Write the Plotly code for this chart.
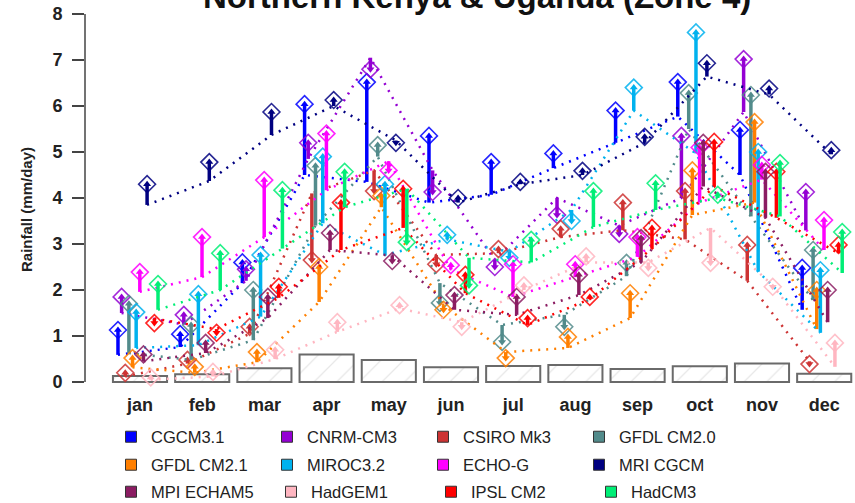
import plotly.graph_objects as go

# ---------------------------------------------------------------- data
months = ["jan", "feb", "mar", "apr", "may", "jun", "jul", "aug", "sep", "oct", "nov", "dec"]
month_pos = list(range(1, 13))
y_ticks = [0, 1, 2, 3, 4, 5, 6, 7, 8]

# observed monthly rainfall (hatched boxes), mm/day
observed = [0.13, 0.17, 0.30, 0.60, 0.48, 0.32, 0.35, 0.37, 0.28, 0.34, 0.40, 0.18]

# model rainfall, present-day ("now") and projected ("future"), mm/day
cgcm31_now = [0.59, 0.76, 2.15, 4.50, 4.35, 3.90, 4.07, 4.65, 5.20, 5.77, 4.50, 1.57]
cgcm31_future = [1.13, 1.04, 2.60, 6.04, 6.52, 5.35, 4.78, 4.97, 5.90, 6.52, 5.48, 2.48]

cnrm_now = [1.50, 1.25, 2.20, 4.85, 7.05, 4.60, 2.65, 4.00, 3.40, 4.00, 5.87, 3.30]
cnrm_future = [1.85, 1.46, 2.45, 5.20, 6.80, 4.13, 2.50, 3.63, 3.22, 5.35, 7.02, 4.13]

csiro_now = [0.12, 0.40, 1.05, 4.10, 4.60, 2.76, 2.80, 3.15, 3.30, 3.10, 2.20, 0.45]
csiro_future = [0.20, 0.48, 1.20, 2.65, 4.15, 2.56, 2.89, 3.33, 3.90, 4.15, 2.98, 0.39]

gfdl20_now = [0.63, 0.48, 0.91, 3.40, 4.90, 2.15, 1.24, 1.46, 2.30, 5.50, 3.60, 1.78]
gfdl20_future = [1.70, 1.24, 2.00, 4.70, 5.15, 1.72, 0.87, 1.20, 2.59, 6.28, 6.24, 2.87]

gfdl21_now = [0.32, 0.20, 0.43, 1.74, 3.80, 1.67, 0.65, 0.74, 1.39, 3.63, 3.90, 1.15]
gfdl21_future = [0.52, 0.33, 0.65, 2.50, 4.05, 1.57, 0.52, 0.98, 1.93, 4.60, 5.65, 2.00]

miroc_now = [0.74, 0.80, 1.42, 3.45, 2.76, 3.10, 2.83, 3.74, 5.90, 4.97, 2.40, 1.07]
miroc_future = [1.52, 1.91, 2.76, 4.90, 4.30, 3.20, 2.70, 3.50, 6.40, 7.60, 5.00, 2.43]

echog_now = [1.96, 2.28, 3.15, 4.17, 4.80, 2.45, 1.85, 2.28, 2.72, 3.90, 4.40, 2.87]
echog_future = [2.39, 3.15, 4.39, 5.40, 4.60, 2.54, 2.56, 2.56, 3.15, 5.10, 4.72, 3.52]

mri_now = [3.85, 4.37, 5.37, 6.00, 5.25, 3.90, 4.30, 4.50, 5.20, 6.64, 6.25, 4.95]
mri_future = [4.30, 4.78, 5.87, 6.13, 5.20, 4.00, 4.35, 4.59, 5.33, 6.93, 6.38, 5.04]

mpi_now = [0.45, 0.63, 1.39, 2.87, 2.75, 1.57, 1.46, 1.89, 2.60, 4.25, 3.57, 1.30]
mpi_future = [0.60, 0.85, 1.85, 3.24, 2.63, 1.89, 1.85, 2.33, 3.13, 5.20, 4.57, 2.00]

hadgem_now = [0.05, 0.12, 0.50, 1.09, 1.60, 1.30, 2.00, 2.60, 2.60, 3.35, 2.10, 0.33]
hadgem_future = [0.10, 0.22, 0.70, 1.30, 1.67, 1.20, 2.10, 2.73, 2.48, 2.59, 2.07, 0.85]

ipsl_now = [1.38, 1.15, 1.83, 2.87, 3.35, 1.93, 1.24, 1.80, 2.90, 4.25, 3.57, 2.80]
ipsl_future = [1.28, 1.07, 2.07, 3.90, 4.20, 2.33, 1.39, 1.85, 3.35, 5.22, 4.57, 2.98]

hadcm3_now = [1.57, 2.00, 2.90, 3.80, 4.20, 2.70, 2.60, 3.37, 3.74, 4.00, 3.60, 2.37]
hadcm3_future = [2.13, 2.80, 4.17, 4.57, 3.04, 2.10, 3.09, 4.15, 4.32, 4.07, 4.76, 3.26]

model_names = ["CGCM3.1", "CNRM-CM3", "CSIRO Mk3", "GFDL CM2.0",
               "GFDL CM2.1", "MIROC3.2", "ECHO-G", "MRI CGCM",
               "MPI ECHAM5", "HadGEM1", "IPSL CM2", "HadCM3"]
model_now = [cgcm31_now, cnrm_now, csiro_now, gfdl20_now, gfdl21_now, miroc_now,
             echog_now, mri_now, mpi_now, hadgem_now, ipsl_now, hadcm3_now]
model_future = [cgcm31_future, cnrm_future, csiro_future, gfdl20_future,
                gfdl21_future, miroc_future, echog_future, mri_future,
                mpi_future, hadgem_future, ipsl_future, hadcm3_future]

# ---------------------------------------------------------------- style
colours = ["#0000FF", "#9400D3", "#CD3333", "#528B8B",
           "#FF7F00", "#00B2EE", "#FF00FF", "#000080",
           "#8B1C62", "#FFB6C1", "#FF0000", "#00EE76"]

# left-to-right placement of the models inside each month slot
slot_order = ["CGCM3.1", "CNRM-CM3", "CSIRO Mk3", "GFDL CM2.0", "GFDL CM2.1",
              "MIROC3.2", "ECHO-G", "MPI ECHAM5", "MRI CGCM", "HadGEM1",
              "IPSL CM2", "HadCM3"]
SLOT_START = -0.354
SLOT_STEP = 0.0585

FONT = "Liberation Sans, Arial, sans-serif"
W, H = 855, 503
PLOT_LEFT, PLOT_BOTTOM = 85, 392   # pixel edges of the plotting region
PX_PER_MONTH, PX_PER_MM = 62.2, 46.0
ZERO_PX = 382                      # pixel row of 0 mm/day

fig = go.Figure()

# observed climatology as hatched boxes
fig.add_trace(go.Bar(
    x=month_pos, y=observed, width=0.87, showlegend=False, hoverinfo="skip",
    marker=dict(color="white", line=dict(color="#6a6a6a", width=2),
                pattern=dict(shape="/", fgcolor="#d0d0d0", bgcolor="white",
                             size=16, solidity=0.08)),
))

for i, name in enumerate(model_names):
    col = colours[i]
    now = model_now[i]
    fut = model_future[i]
    dx = SLOT_START + SLOT_STEP * slot_order.index(name)
    xs = [m + dx for m in month_pos]

    # present-day annual cycle
    fig.add_trace(go.Scatter(
        x=xs, y=now, mode="lines", showlegend=False, hoverinfo="skip",
        line=dict(color=col, width=2.5, dash="2px,6px"),
    ))

    # change arrows: shaft from present-day to future value
    sx, sy = [], []
    for x, a, b in zip(xs, now, fut):
        sx += [x, x, None]
        sy += [a, b, None]
    fig.add_trace(go.Scatter(
        x=sx, y=sy, mode="lines", showlegend=False, hoverinfo="skip",
        line=dict(color=col, width=3.5),
    ))
    fig.add_trace(go.Scatter(
        x=xs, y=fut, mode="markers", showlegend=False, hoverinfo="skip",
        marker=dict(color=col, size=7,
                    symbol=["triangle-up" if b >= a else "triangle-down"
                            for a, b in zip(now, fut)]),
    ))

    # future value
    fig.add_trace(go.Scatter(
        x=xs, y=fut, mode="markers", showlegend=False, hoverinfo="skip",
        marker=dict(symbol="diamond-open", size=13, color=col,
                    line=dict(color=col, width=1.6), opacity=0.85),
    ))

    # legend key
    fig.add_trace(go.Scatter(
        x=[None], y=[None], mode="markers", name=name,
        legend=["legend", "legend2", "legend3"][i // 4],
        marker=dict(symbol="square", size=11, color=col,
                    line=dict(color="#333333", width=1)),
    ))

x_lo = 1 - (140 - PLOT_LEFT) / PX_PER_MONTH
x_hi = x_lo + (W - PLOT_LEFT) / PX_PER_MONTH
y_hi = ZERO_PX / PX_PER_MM
y_lo = -(PLOT_BOTTOM - ZERO_PX) / PX_PER_MM

legend_common = dict(orientation="h", xref="container", yref="container",
                     xanchor="left", yanchor="middle", bgcolor="rgba(0,0,0,0)",
                     font=dict(family=FONT, size=16.5, color="#222222"),
                     entrywidthmode="pixels")

fig.update_layout(
    width=W, height=H,
    margin=dict(l=PLOT_LEFT, r=0, t=0, b=H - PLOT_BOTTOM, pad=0),
    paper_bgcolor="white", plot_bgcolor="white",
    font=dict(family=FONT, color="#222222"),
    barmode="overlay",
    xaxis=dict(range=[x_lo, x_hi], tickvals=month_pos, ticktext=months,
               showgrid=False, zeroline=False, showline=False, ticks="",
               tickfont=dict(family=FONT, size=18, color="#222222", weight="bold")),
    yaxis=dict(range=[y_lo, y_hi], tickvals=y_ticks,
               showgrid=False, zeroline=False, showline=False,
               ticks="outside", ticklen=12, tickwidth=1.5, tickcolor="#444444",
               ticklabelstandoff=6,
               tickfont=dict(family=FONT, size=18, color="#222222", weight="bold")),
    legend=dict(legend_common, x=111 / W, y=1 - 437 / H, entrywidth=111),
    legend2=dict(legend_common, x=111 / W, y=1 - 465 / H, entrywidth=111),
    legend3=dict(legend_common, x=111 / W, y=1 - 492 / H, entrywidth=115),
    shapes=[dict(type="line", xref="paper", yref="y", x0=0, x1=0,
                 y0=min(y_ticks), y1=max(y_ticks),
                 line=dict(color="#444444", width=1.5))],
    annotations=[
        dict(text="<b>Northern Kenya & Uganda (Zone 4)</b>", xref="paper", yref="paper",
             x=(477 - PLOT_LEFT) / (W - PLOT_LEFT), y=1, xanchor="center",
             yanchor="middle", yshift=4, showarrow=False,
             font=dict(family=FONT, size=33, color="#111111")),
        dict(text="<b>Rainfall (mm/day)</b>", xref="paper", yref="paper",
             x=(26 - PLOT_LEFT) / (W - PLOT_LEFT), y=1 - 210 / PLOT_BOTTOM,
             xanchor="center", yanchor="middle", textangle=-90, showarrow=False,
             font=dict(family=FONT, size=15, color="#222222")),
    ],
)

fig.write_html("out.html")
